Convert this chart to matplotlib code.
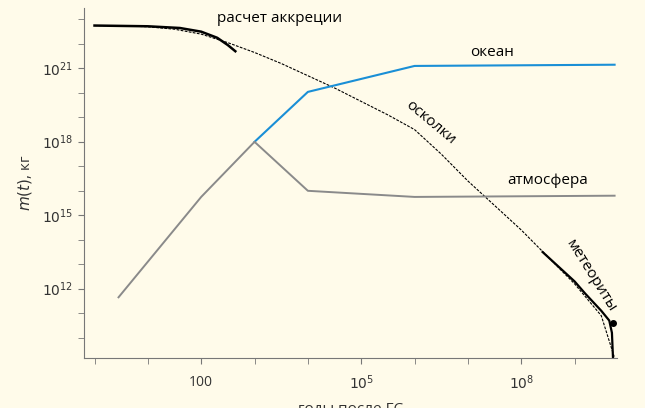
import numpy as np
import matplotlib
matplotlib.use("Agg")
import matplotlib.pyplot as plt
from matplotlib.ticker import FixedLocator, NullFormatter

plt.rcParams["font.family"] = ["Open Sans", "DejaVu Sans"]

_BG = "#fffbea"
_BLUE = "#1a8fd6"
_GREY = "#8a8a8a"

# log10 values
accr_x = [0.0, 1.0, 1.6, 2.0, 2.3, 2.5, 2.64]
accr_y = [22.75, 22.72, 22.65, 22.5, 22.25, 21.95, 21.7]

debris_x = [0.0, 0.5, 1.0, 1.5, 2.0, 2.5, 3.0, 3.5, 4.0, 4.5, 5.0, 5.5, 6.0,
            6.5, 7.0, 7.5, 8.0, 8.5, 9.0, 9.5, 9.75]
debris_y = [22.75, 22.74, 22.7, 22.6, 22.4, 22.05, 21.65, 21.2, 20.7, 20.2,
            19.65, 19.1, 18.5, 17.5, 16.4, 15.4, 14.4, 13.3, 12.2, 10.9, 9.17]

ocean_x = [3.0, 4.0, 6.0, 9.75]
ocean_y = [18.0, 20.04, 21.1, 21.15]

atm_x = [0.45, 2.0, 3.0, 4.0, 6.0, 9.75]
atm_y = [11.65, 15.75, 18.0, 16.0, 15.75, 15.8]

met_x = [8.4, 8.7, 9.0, 9.2, 9.5, 9.65, 9.7, 9.72]
met_y = [13.5, 12.9, 12.3, 11.8, 11.1, 10.7, 10.2, 9.17]

dot_x, dot_y = 9.72, 10.6

fig = plt.figure(figsize=(6.45, 4.08), dpi=100, facecolor=_BG)
ax = fig.add_axes([0.130, 0.1225, 0.827, 0.8575], facecolor=_BG)
ax.set_xscale("log")
ax.set_yscale("log")

p = lambda v: 10 ** np.array(v)
ax.plot(p(debris_x), p(debris_y), color="black", lw=0.8, ls=(0, (2.5, 1.2)))
ax.plot(p(accr_x), p(accr_y), color="black", lw=1.8)
ax.plot(p(ocean_x), p(ocean_y), color=_BLUE, lw=1.5)
ax.plot(p(atm_x), p(atm_y), color=_GREY, lw=1.4)
ax.plot(p(met_x), p(met_y), color="black", lw=1.6)
ax.plot(10 ** dot_x, 10 ** dot_y, "o", color="black", ms=4)

ax.set_xlim(10 ** -0.2, 10 ** 9.8)
ax.set_ylim(10 ** 9.17, 10 ** 23.46)

ax.xaxis.set_major_locator(FixedLocator([1e2, 1e5, 1e8]))
ax.xaxis.set_minor_locator(FixedLocator([10.0 ** k for k in range(0, 10)]))
ax.set_xticklabels(["100", "$10^5$", "$10^8$"])
ax.yaxis.set_major_locator(FixedLocator([1e12, 1e15, 1e18, 1e21]))
ax.yaxis.set_minor_locator(FixedLocator([10.0 ** k for k in range(10, 24)]))
ax.set_yticklabels(["$10^{12}$", "$10^{15}$", "$10^{18}$", "$10^{21}$"])
ax.xaxis.set_minor_formatter(NullFormatter())
ax.yaxis.set_minor_formatter(NullFormatter())
ax.tick_params(which="both", length=4, color="#777777", labelsize=10,
               labelcolor="#333333", direction="out")
ax.tick_params(axis="x", pad=8)
for s in ("top", "right"):
    ax.spines[s].set_visible(False)
for s in ("left", "bottom"):
    ax.spines[s].set_color("#777777")

ax.set_xlabel("годы после ГС", fontsize=11, labelpad=6, color="#333333")
ax.set_ylabel("$m(t)$, кг", fontsize=11, labelpad=6, color="#333333")

ax.text(10 ** 2.3, 10 ** 22.75, "расчет аккреции", fontsize=11, va="bottom")
ax.text(10 ** 7.45, 10 ** 21.35, "океан", fontsize=11, ha="center", va="bottom")
ax.text(10 ** 6.3, 10 ** 18.8, "осколки", fontsize=11, ha="center", va="center", rotation=-40)
ax.text(10 ** 8.5, 10 ** 16.1, "атмосфера", fontsize=11, ha="center", va="bottom")
ax.text(10 ** 9.3, 10 ** 12.5, "метеориты", fontsize=11, ha="center", va="center", rotation=-58)

fig.savefig("out.png", dpi=100, facecolor=_BG)
